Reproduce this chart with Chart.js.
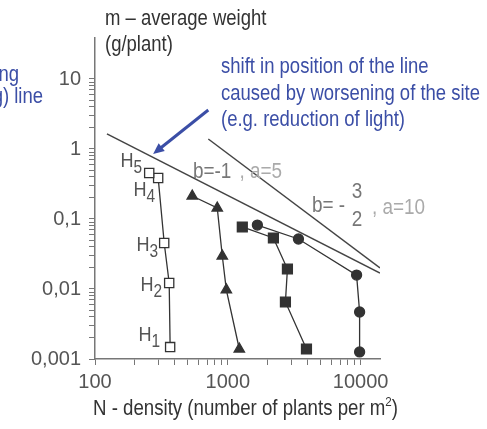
<!DOCTYPE html>
<html>
<head>
<meta charset="utf-8">
<script src="https://cdn.jsdelivr.net/npm/chart.js@4"></script>
<style>
  body { margin: 0; background: #fff; }
</style>
</head>
<body>
<canvas id="chart" width="487" height="429"></canvas>
<script>
// series (N = plants per m2, m = g/plant)
const hDensity = [368, 362, 332, 299, 256];
const hWeight = [0.00148, 0.0122, 0.0454, 0.385, 0.454];
const hNames = ['1', '2', '3', '4', '5'];
const triDensity = [540, 833, 909, 975, 1221];
const triWeight = [0.213, 0.1436, 0.0296, 0.0097, 0.00139];
const sqDensity = [1286, 2205, 2812, 2716, 3912];
const sqWeight = [0.0769, 0.0535, 0.0193, 0.00652, 0.00139];
const dotDensity = [1670, 3404, 9330, 9830, 9830];
const dotWeight = [0.082, 0.0518, 0.0158, 0.00469, 0.00126];
// self-thinning lines
const lineB1Density = [123, 14000];
const lineB1Weight = [1.64, 0.0169];
const lineB15Density = [713, 14000];
const lineB15Weight = [1.39, 0.02];
// arrow (tail, tip)
const arrowDensity = [713, 274];
const arrowWeight = [3.61, 0.848];

const xTicks = [100, 1000, 10000];
const xTickLabels = ['100', '1000', '10000'];
const yTicks = [0.001, 0.01, 0.1, 1, 10];
const yTickLabels = ['0,001', '0,01', '0,1', '1', '10'];

const FONT = "'Liberation Sans', Arial, sans-serif";
const BLUE = '#3b4ea6';
const INK = '#333';

const pts = (xs, ys) => xs.map((x, i) => ({ x: x, y: ys[i] }));

function logTicks(majors) {
  const out = [];
  majors.forEach((v, i) => {
    out.push({ value: v });
    if (i < majors.length - 1) {
      for (let k = 2; k <= 9; k++) out.push({ value: v * k });
    }
  });
  return out;
}

// narrow text: draw with horizontal squeeze
function say(ctx, text, x, y, size, align, color) {
  const sx = 0.86;
  ctx.save();
  ctx.font = size + 'px ' + FONT;
  ctx.fillStyle = color;
  ctx.textBaseline = 'middle';
  ctx.textAlign = 'left';
  const w = ctx.measureText(text).width * sx;
  let left = x;
  if (align === 'right') left = x - w;
  if (align === 'center') left = x - w / 2;
  ctx.translate(left, y);
  ctx.scale(sx, 1);
  ctx.fillText(text, 0, 0);
  ctx.restore();
  return w;
}

const markStyle = {
  showLine: true,
  borderColor: INK,
  borderWidth: 1.3,
  pointBorderColor: INK,
  pointBorderWidth: 1.3
};

const annotations = {
  id: 'annotations',
  afterDraw(chart) {
    const ctx = chart.ctx;
    const xs = chart.scales.x, ys = chart.scales.y;
    const px = v => xs.getPixelForValue(v);
    const py = v => ys.getPixelForValue(v);

    // axis titles
    say(ctx, 'm \u2013 average weight', 105, 19, 21.5, 'left', '#333');
    say(ctx, '(g/plant)', 105, 45, 21.5, 'left', '#333');
    const t = say(ctx, 'N - density (number of plants per m', 93, 409, 21.7, 'left', '#333');
    const t2 = say(ctx, '2', 93 + t, 402, 13.5, 'left', '#333');
    say(ctx, ')', 93 + t + t2, 409, 21.7, 'left', '#333');

    // blue notes
    say(ctx, 'shift in position of the line', 221, 67, 21.5, 'left', BLUE);
    say(ctx, 'caused by worsening of the site', 221, 94, 21.5, 'left', BLUE);
    say(ctx, '(e.g. reduction of light)', 221, 120, 21.5, 'left', BLUE);
    say(ctx, 'self-thinning', 19, 75, 21.5, 'right', BLUE);
    say(ctx, '(self-thinning) line', 43, 97, 21.5, 'right', BLUE);

    // arrow
    ctx.save();
    const x0 = px(arrowDensity[0]), y0 = py(arrowWeight[0]);
    const x1 = px(arrowDensity[1]), y1 = py(arrowWeight[1]);
    const ang = Math.atan2(y1 - y0, x1 - x0);
    ctx.strokeStyle = BLUE;
    ctx.fillStyle = BLUE;
    ctx.lineWidth = 3;
    ctx.beginPath();
    ctx.moveTo(x0, y0);
    ctx.lineTo(x1 - 8 * Math.cos(ang), y1 - 8 * Math.sin(ang));
    ctx.stroke();
    ctx.beginPath();
    ctx.moveTo(x1, y1);
    ctx.lineTo(x1 - 12 * Math.cos(ang - 0.42), y1 - 12 * Math.sin(ang - 0.42));
    ctx.lineTo(x1 - 12 * Math.cos(ang + 0.42), y1 - 12 * Math.sin(ang + 0.42));
    ctx.closePath();
    ctx.fill();
    ctx.restore();

    // H labels next to the open squares: [digit right edge dx, H centre dy]
    const hOffsets = [[-10, -12], [-7, 2], [-6, 2], [-3, 12], [-7, -12]];
    hNames.forEach((n, i) => {
      const x = px(hDensity[i]) + hOffsets[i][0];
      const y = py(hWeight[i]) + hOffsets[i][1];
      const w = say(ctx, n, x, y + 7, 18, 'right', '#555');
      say(ctx, 'H', x - w, y, 21, 'right', '#555');
    });

    // line labels
    const w = say(ctx, 'b=-1', 193, 172, 22, 'left', '#777');
    say(ctx, ', a=5', 193 + w + 8, 172, 22, 'left', '#aaa');
    say(ctx, 'b= -', 312, 206, 22, 'left', '#777');
    say(ctx, '3', 357, 192, 22, 'center', '#777');
    say(ctx, '2', 357, 220, 22, 'center', '#777');
    say(ctx, ', a=10', 372, 208, 22, 'left', '#aaa');
  }
};

new Chart(document.getElementById('chart'), {
  type: 'scatter',
  data: {
    datasets: [
      Object.assign({ data: pts(hDensity, hWeight), pointStyle: 'rect', pointRadius: 6.5, pointBackgroundColor: '#fff' }, markStyle),
      Object.assign({ data: pts(triDensity, triWeight), pointStyle: 'triangle', pointRadius: 6, pointBackgroundColor: INK }, markStyle),
      Object.assign({ data: pts(sqDensity, sqWeight), pointStyle: 'rect', pointRadius: 7, pointBackgroundColor: INK }, markStyle),
      Object.assign({ data: pts(dotDensity, dotWeight), pointStyle: 'circle', pointRadius: 5, pointBackgroundColor: INK }, markStyle),
      { data: pts(lineB1Density, lineB1Weight), showLine: true, pointRadius: 0, borderColor: '#444', borderWidth: 1.5 },
      { data: pts(lineB15Density, lineB15Weight), showLine: true, pointRadius: 0, borderColor: '#444', borderWidth: 1.5 }
    ]
  },
  options: {
    responsive: false,
    animation: false,
    layout: { padding: { top: 38, right: 107, left: 0, bottom: 0 } },
    plugins: { legend: { display: false }, tooltip: { enabled: false } },
    scales: {
      x: {
        type: 'logarithmic',
        min: 100,
        max: 14000,
        afterBuildTicks: s => { s.ticks = logTicks(xTicks); },
        afterFit: s => { s.height = 70; },
        border: { color: '#777', width: 1.5 },
        grid: { drawOnChartArea: false, tickLength: 6, color: '#777' },
        ticks: {
          autoSkip: false,
          maxRotation: 0,
          padding: 5,
          color: '#555',
          font: { family: FONT, size: 20 },
          callback: v => { const i = xTicks.indexOf(v); return i >= 0 ? xTickLabels[i] : ''; }
        }
      },
      y: {
        type: 'logarithmic',
        min: 0.001,
        max: 38.5,
        afterBuildTicks: s => { s.ticks = logTicks(yTicks); },
        afterFit: s => { s.width = 95; },
        border: { color: '#777', width: 1.5 },
        grid: { drawOnChartArea: false, tickLength: 6, color: '#777' },
        ticks: {
          autoSkip: false,
          padding: 8,
          color: '#555',
          font: { family: FONT, size: 20 },
          callback: v => { const i = yTicks.indexOf(v); return i >= 0 ? yTickLabels[i] : ''; }
        }
      }
    }
  },
  plugins: [annotations]
});
</script>
</body>
</html>
